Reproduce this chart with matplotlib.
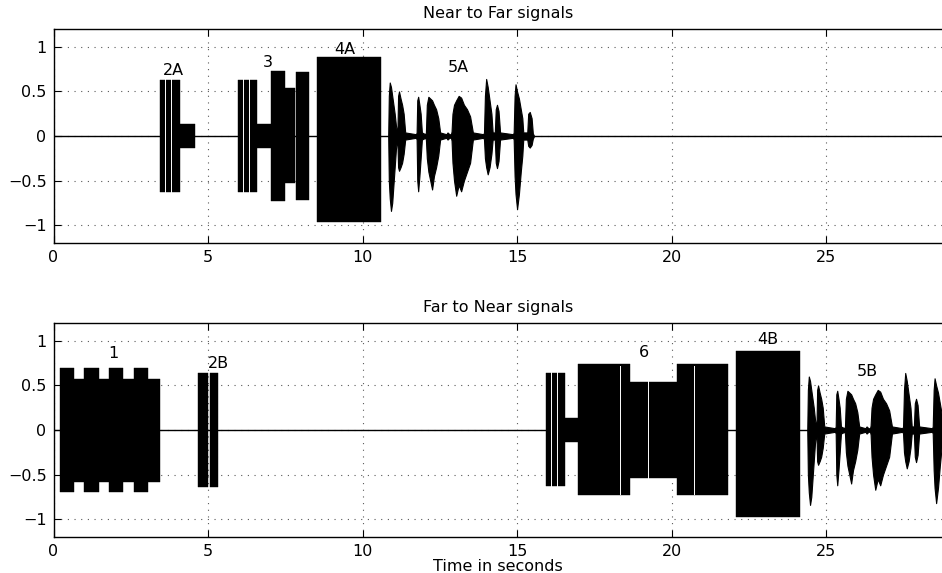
import matplotlib
matplotlib.use("Agg")
import matplotlib.pyplot as plt
import numpy as np

# ---------------- data ----------------
# rectangular tone blocks: start (s), end (s), upper, lower
top_blk_start = [3.45, 4.09, 5.98, 6.60, 7.04, 7.49, 7.85, 8.54]
top_blk_end   = [4.09, 4.58, 6.60, 7.04, 7.49, 7.82, 8.28, 10.60]
top_blk_up    = [0.63, 0.14, 0.63, 0.14, 0.73, 0.54, 0.72, 0.89]
top_blk_lo    = [-0.63, -0.13, -0.63, -0.13, -0.73, -0.53, -0.72, -0.97]
top_gap_x     = [3.61, 3.80, 6.14, 6.34]

bot_blk_start = [0.21, 0.66, 0.99, 1.47, 1.80, 2.24, 2.61, 3.05, 4.67, 5.06,
                 15.93, 16.55, 16.98, 18.66, 20.17, 22.08]
bot_blk_end   = [0.66, 0.99, 1.47, 1.80, 2.24, 2.61, 3.05, 3.45, 5.01, 5.31,
                 16.55, 16.98, 18.66, 20.17, 21.84, 24.14]
bot_blk_up    = [0.69, 0.57, 0.69, 0.57, 0.69, 0.57, 0.69, 0.57, 0.64, 0.64,
                 0.64, 0.13, 0.74, 0.54, 0.74, 0.89]
bot_blk_lo    = [-0.70, -0.58, -0.70, -0.58, -0.70, -0.58, -0.70, -0.58, -0.64, -0.64,
                 -0.63, -0.14, -0.73, -0.54, -0.73, -0.98]
bot_gap_x     = [16.09, 16.28, 18.33, 19.23, 20.73]

# speech utterance envelope (5A / 5B), time relative to its onset
speech_t  = [0.00, 0.02, 0.05, 0.09, 0.13, 0.17, 0.21, 0.25, 0.28,
             0.30, 0.32, 0.35, 0.40, 0.45, 0.50, 0.55,
             0.90, 0.92, 0.94, 0.97, 1.01, 1.05, 1.09,
             1.20, 1.22, 1.25, 1.30, 1.36, 1.42, 1.48, 1.55, 1.62, 1.68,
             1.88, 1.92, 1.98,
             2.03, 2.05, 2.08, 2.13, 2.20, 2.28, 2.36, 2.45, 2.55, 2.65, 2.74,
             3.08, 3.10, 3.13, 3.17, 3.22, 3.28, 3.34, 3.38,
             3.45, 3.48, 3.52, 3.57, 3.62,
             4.04, 4.06, 4.09, 4.12, 4.17, 4.23, 4.29, 4.34, 4.37,
             4.50, 4.53, 4.58, 4.64, 4.68, 4.72]
speech_up = [0.00, 0.45, 0.60, 0.55, 0.45, 0.35, 0.25, 0.12, 0.05,
             0.08, 0.45, 0.50, 0.42, 0.35, 0.25, 0.04,
             0.02, 0.04, 0.40, 0.44, 0.35, 0.25, 0.04,
             0.02, 0.04, 0.35, 0.44, 0.42, 0.40, 0.35, 0.30, 0.20, 0.04,
             0.02, 0.04, 0.02,
             0.02, 0.05, 0.25, 0.35, 0.40, 0.45, 0.43, 0.35, 0.30, 0.22, 0.04,
             0.02, 0.04, 0.45, 0.64, 0.55, 0.40, 0.25, 0.04,
             0.04, 0.30, 0.35, 0.28, 0.04,
             0.02, 0.04, 0.45, 0.58, 0.50, 0.42, 0.30, 0.20, 0.04,
             0.04, 0.25, 0.27, 0.20, 0.03, 0.00]
speech_lo = [0.00, -0.50, -0.70, -0.84, -0.75, -0.55, -0.35, -0.15, -0.05,
             -0.08, -0.35, -0.39, -0.35, -0.30, -0.20, -0.04,
             -0.02, -0.04, -0.50, -0.62, -0.45, -0.25, -0.04,
             -0.02, -0.04, -0.25, -0.40, -0.50, -0.60, -0.45, -0.35, -0.22, -0.04,
             -0.02, -0.04, -0.02,
             -0.02, -0.05, -0.30, -0.50, -0.67, -0.55, -0.62, -0.50, -0.40, -0.30, -0.04,
             -0.02, -0.04, -0.25, -0.35, -0.43, -0.35, -0.20, -0.04,
             -0.04, -0.30, -0.36, -0.28, -0.04,
             -0.02, -0.04, -0.45, -0.65, -0.82, -0.65, -0.40, -0.22, -0.04,
             -0.04, -0.11, -0.13, -0.10, -0.03, 0.00]
speech_onset_top = 10.83
speech_onset_bot = 24.39

top_labels = ["2A", "3", "4A", "5A"]
top_lab_x = [3.89, 6.94, 9.43, 13.11]
top_lab_y = [0.73, 0.82, 0.97, 0.77]
bot_labels = ["1", "2B", "6", "4B", "5B"]
bot_lab_x = [1.93, 5.35, 19.11, 23.12, 26.33]
bot_lab_y = [0.86, 0.75, 0.87, 1.02, 0.66]

xticks = [0, 5, 10, 15, 20, 25]
yticks = [-1, -0.5, 0, 0.5, 1]
yticklabels = ["\u22121", "\u22120.5", "0", "0.5", "1"]
titles = ["Near to Far signals", "Far to Near signals"]
xlabel = "Time in seconds"
x_max = 28.75

# ---------------- figure ----------------
plt.rcParams['font.family'] = ['DejaVu Sans']
FS = 11.5
fig = plt.figure(figsize=(9.42, 5.73), dpi=100)
ax_top = fig.add_axes([0.0568, 0.5759, 1.0 - 0.0568, 0.3735])
ax_bot = fig.add_axes([0.0568, 0.0628, 1.0 - 0.0568, 0.3735])


def draw(ax, bs, be, bu, bl, gaps, onset, labels, lx, ly, title):
    ax.plot([0, x_max], [0, 0], color='k', lw=1.0, zorder=2)
    for s, e, u, l in zip(bs, be, bu, bl):
        ax.fill_between([s, e], [l, l], [u, u], color='k', lw=0.3, zorder=3)
    for g in gaps:
        ax.axvline(g, ymin=0.2, ymax=0.8, color='white', lw=0.7, zorder=3.5)
    t = np.array(speech_t) + onset
    ax.fill_between(t, speech_lo, speech_up, color='k', lw=0.8, zorder=3)
    for txt, x, y in zip(labels, lx, ly):
        ax.text(x, y, txt, ha='center', va='center', fontsize=FS, zorder=4)
    ax.set_xlim(0, x_max)
    ax.set_ylim(-1.2, 1.2)
    ax.set_xticks(xticks)
    ax.set_yticks(yticks)
    ax.set_yticklabels(yticklabels)
    ax.grid(True, color='0.35', linestyle=(0, (1, 5)), linewidth=0.8)
    ax.tick_params(direction='in', length=5, width=0.8, top=True, right=False,
                   labelsize=FS, pad=5)
    for side in ['left', 'top', 'bottom']:
        ax.spines[side].set_linewidth(1.0)
    ax.spines['right'].set_visible(False)
    ax.set_title(title, fontsize=FS, pad=8)


draw(ax_top, top_blk_start, top_blk_end, top_blk_up, top_blk_lo, top_gap_x,
     speech_onset_top, top_labels, top_lab_x, top_lab_y, titles[0])
draw(ax_bot, bot_blk_start, bot_blk_end, bot_blk_up, bot_blk_lo, bot_gap_x,
     speech_onset_bot, bot_labels, bot_lab_x, bot_lab_y, titles[1])
ax_bot.set_xlabel(xlabel, fontsize=FS, labelpad=0)

fig.savefig("out.png", dpi=100)
